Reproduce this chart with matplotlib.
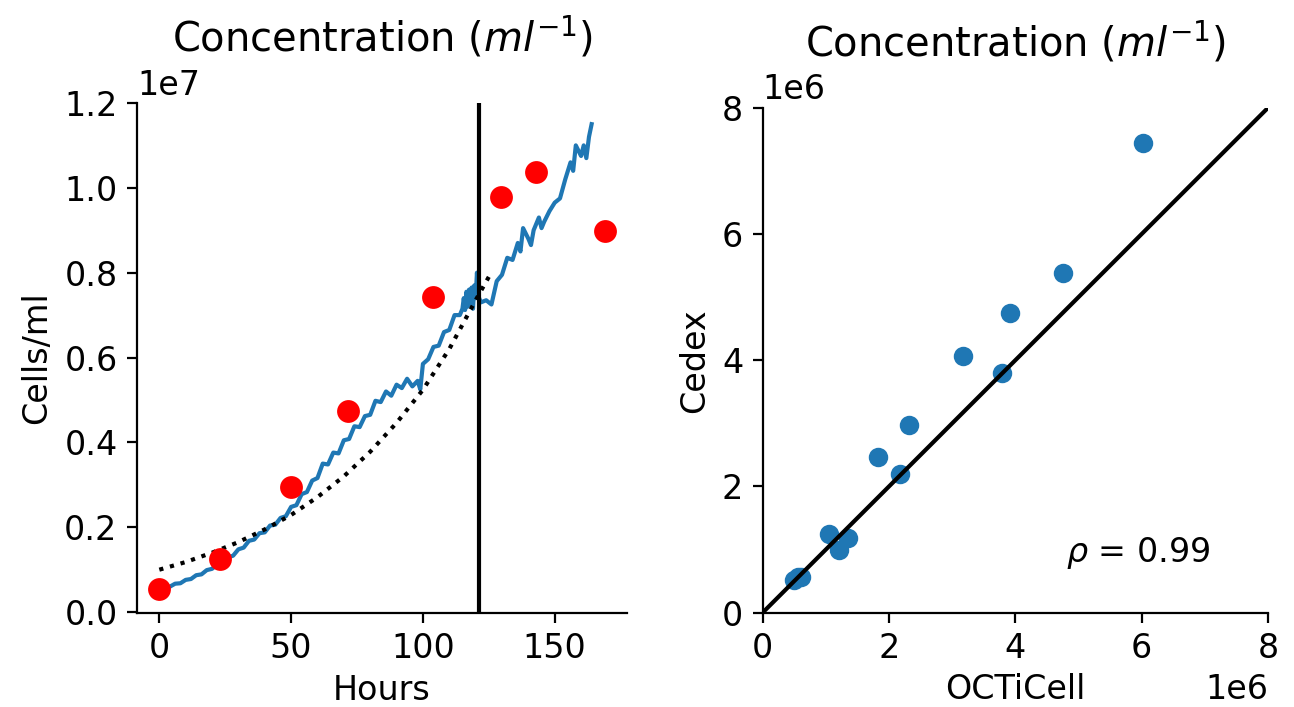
import matplotlib
matplotlib.use("Agg")
import matplotlib.pyplot as plt

# ── Left panel: concentration over time ──────────────────────────────────────
# OCTiCell trace (hours, cells/ml in units of 1e7)
trace_hours = [0, 2, 4, 6, 8, 10, 12, 14, 16, 18, 20, 22, 24, 26, 28, 30, 32, 34,
               36, 38, 40, 42, 44, 46, 48, 50, 52, 54, 56, 58, 60, 62, 64, 66, 68,
               70, 72, 74, 76, 78, 80, 82, 84, 86, 88, 90, 92, 94, 96, 98, 99, 100,
               102, 104, 106, 108, 110, 112, 114, 115, 115.5, 116, 116.5, 117, 117.5,
               118, 118.5, 119, 119.5, 120, 120.5, 121, 122, 124, 126, 128, 130, 132,
               134, 136, 137, 138, 140, 141, 142, 144, 145, 146, 148, 150, 152, 154,
               156, 157, 158, 160, 161, 162, 163, 164]
trace_cells = [0.053, 0.058, 0.060, 0.067, 0.068, 0.076, 0.078, 0.087, 0.089, 0.099,
               0.102, 0.113, 0.116, 0.129, 0.133, 0.148, 0.152, 0.168, 0.171, 0.186,
               0.188, 0.204, 0.206, 0.222, 0.226, 0.248, 0.252, 0.278, 0.283, 0.310,
               0.316, 0.350, 0.348, 0.376, 0.374, 0.405, 0.408, 0.438, 0.436, 0.462,
               0.465, 0.498, 0.495, 0.520, 0.510, 0.536, 0.528, 0.550, 0.532, 0.545,
               0.525, 0.585, 0.596, 0.625, 0.628, 0.660, 0.665, 0.700, 0.700, 0.715,
               0.740, 0.712, 0.755, 0.720, 0.760, 0.725, 0.765, 0.715, 0.770, 0.740,
               0.800, 0.745, 0.730, 0.735, 0.725, 0.780, 0.795, 0.835, 0.830, 0.870,
               0.850, 0.905, 0.880, 0.865, 0.900, 0.930, 0.905, 0.920, 0.945, 0.965,
               0.975, 1.020, 1.060, 1.040, 1.100, 1.075, 1.100, 1.070, 1.120, 1.150]

# Cedex reference counts
cedex_hours = [0, 23, 50, 71.5, 104, 129.5, 143, 169]
cedex_cells = [0.055, 0.125, 0.295, 0.475, 0.742, 0.978, 1.038, 0.898]

# exponential fit (dotted)
fit_hours = [0, 10, 20, 30, 40, 50, 60, 70, 80, 90, 100, 110, 120, 125]
fit_cells = [0.100, 0.118, 0.140, 0.165, 0.195, 0.229, 0.271, 0.320, 0.378,
             0.446, 0.524, 0.620, 0.735, 0.790]

cutoff_hour = 121.4

# ── Right panel: OCTiCell vs Cedex (units of 1e6) ────────────────────────────
octicell = [6.02, 4.76, 3.92, 3.17, 3.79, 2.31, 1.83, 2.18, 1.05, 1.35, 1.21,
            0.50, 0.56, 0.60]
cedex = [7.44, 5.38, 4.75, 4.07, 3.80, 2.97, 2.46, 2.19, 1.25, 1.18, 0.99,
         0.51, 0.56, 0.56]
rho = 0.99

plt.rcParams["font.size"] = 12

fig = plt.figure(figsize=(6.47, 3.535), dpi=200)
ax1 = fig.add_axes([0.1059, 0.1330, 0.3787, 0.7214])
ax2 = fig.add_axes([0.5894, 0.1335, 0.3905, 0.7140])

ax1.plot(trace_hours, [v * 1e7 for v in trace_cells], color="#1f77b4", lw=1.5)
ax1.plot(fit_hours, [v * 1e7 for v in fit_cells], ":", color="black", lw=1.5)
ax1.scatter(cedex_hours, [v * 1e7 for v in cedex_cells], color="red", s=52, zorder=3)
ax1.axvline(cutoff_hour, color="black", lw=1.5)
ax1.set_xlim(-8.45, 177.45)
ax1.set_ylim(-0.002e7, 1.2e7)
ax1.set_yticks([0, 0.2e7, 0.4e7, 0.6e7, 0.8e7, 1.0e7, 1.2e7])
ax1.set_xticks([0, 50, 100, 150])
ax1.set_xlabel("Hours", labelpad=3)
ax1.set_ylabel("Cells/ml")
ax1.set_title(r"Concentration ($ml^{-1}$)")

ax2.scatter([v * 1e6 for v in octicell], [v * 1e6 for v in cedex], color="#1f77b4", s=36)
ax2.plot([0, 8e6], [0, 8e6], color="black", lw=1.5)
ax2.set_xlim(0, 8e6)
ax2.set_ylim(0, 8e6)
ax2.set_xticks([0, 2e6, 4e6, 6e6, 8e6])
ax2.set_yticks([0, 2e6, 4e6, 6e6, 8e6])
ax2.text(4.8e6, 0.8e6, r"$\rho$ = " + f"{rho:.2f}")
ax2.set_xlabel("OCTiCell", labelpad=3)
ax2.set_ylabel("Cedex")
ax2.set_title(r"Concentration ($ml^{-1}$)")

for ax in (ax1, ax2):
    ax.spines["top"].set_visible(False)
    ax.spines["right"].set_visible(False)

fig.savefig("out.png", dpi=200)
